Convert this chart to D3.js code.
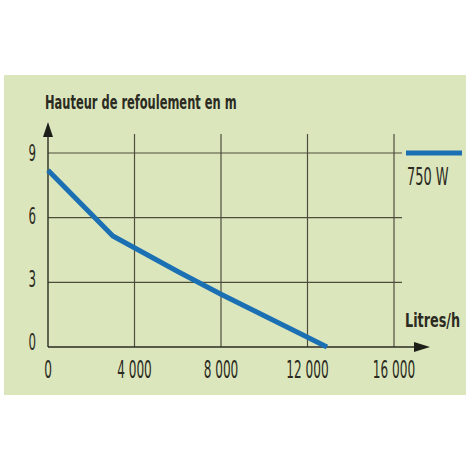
<!DOCTYPE html>
<html>
<head>
<meta charset="utf-8">
<script src="https://cdn.jsdelivr.net/npm/d3@7"></script>
<style>
  body { margin: 0; background: #fff; }
  svg text { font-family: "Liberation Sans Narrow", "DejaVu Sans Condensed", sans-serif; fill: #2b2b22; }
</style>
</head>
<body>
<svg class="chart"></svg>
<script>
//DATA
const flow = [0, 3000, 6000, 8000, 10000, 12000, 12900];
const head = [8.2, 5.15, 3.5, 2.45, 1.45, 0.45, 0];
const xTicks = [0, 4000, 8000, 12000, 16000];
const yTicks = [0, 3, 6, 9];
const seriesName = '750 W';
const yTitle = 'Hauteur de refoulement en m';
const xTitle = 'Litres/h';

//INITIALIZING CANVAS
const size = {w: 470, h: 470};
const plot = {left: 48, right: 394, top: 153, bottom: 347};

const svg = d3.select('svg.chart')
    .attr('width', size.w)
    .attr('height', size.h);

svg.append('rect')
    .attr('x', 4).attr('y', 75)
    .attr('width', 462).attr('height', 320)
    .attr('fill', '#dce6bd');

const x = d3.scaleLinear().domain([0, 16000]).range([plot.left, plot.right]);
const y = d3.scaleLinear().domain([0, 9]).range([plot.bottom, plot.top]);

const fmt = d => d === 0 ? '0' : d3.format(',')(d).replace(',', ' ');

//GRID
const grid = svg.append('g').attr('stroke', '#4d4d3c').attr('stroke-width', 1.2);

grid.selectAll('line.h')
    .data(yTicks.filter(d => d > 0))
    .enter().append('line')
    .attr('x1', x(0)).attr('x2', x(16000) + 8)
    .attr('y1', d => y(d)).attr('y2', d => y(d));

grid.selectAll('line.v')
    .data(xTicks.filter(d => d > 0))
    .enter().append('line')
    .attr('x1', d => x(d)).attr('x2', d => x(d))
    .attr('y1', y(9) - 19).attr('y2', y(0));

//AXES WITH ARROWS
const axis = svg.append('g').attr('stroke', '#2b2b22').attr('stroke-width', 1.4);
axis.append('line')
    .attr('x1', x(0)).attr('x2', 418)
    .attr('y1', y(0)).attr('y2', y(0));
axis.append('line')
    .attr('x1', x(0)).attr('x2', x(0))
    .attr('y1', y(0)).attr('y2', 134);

svg.append('path')
    .attr('d', `M${x(0)},122 L${x(0) - 5},137 L${x(0) + 5},137 Z`)
    .attr('fill', '#1e1e18');
svg.append('path')
    .attr('d', `M430,${y(0)} L414,${y(0) - 5} L414,${y(0) + 5} Z`)
    .attr('fill', '#1e1e18');

//TICK LABELS
function label(txt, px, py, anchor, fs, sx, bold){
    svg.append('text')
        .attr('transform', `translate(${px},${py}) scale(${sx},1)`)
        .attr('text-anchor', anchor)
        .attr('font-size', fs)
        .attr('font-weight', bold ? 'bold' : 'normal')
        .text(txt);
}

xTicks.forEach(d => label(fmt(d), x(d), 378, 'middle', 24, 0.56, false));
yTicks.forEach(d => label(fmt(d), 36, y(d) + 3 + d * 0.55, 'end', 23, 0.57, false));

//TITLES
label(yTitle, 45, 109, 'start', 19, 0.67, true);
label(xTitle, 405, 327, 'start', 19, 0.75, true);

//CURVE
const data = flow.map((f, i) => ({f: f, h: head[i]}));
svg.append('path')
    .datum(data)
    .attr('fill', 'none')
    .attr('stroke', '#1b70b3')
    .attr('stroke-width', 5)
    .attr('stroke-linecap', 'butt')
    .attr('stroke-linejoin', 'round')
    .attr('d', d3.line().x(d => x(d.f)).y(d => y(d.h)));

//LEGEND
svg.append('line')
    .attr('x1', 406).attr('x2', 462)
    .attr('y1', 153).attr('y2', 153)
    .attr('stroke', '#1b70b3')
    .attr('stroke-width', 5);
label(seriesName, 407, 185, 'start', 24, 0.6, false);
</script>
</body>
</html>
